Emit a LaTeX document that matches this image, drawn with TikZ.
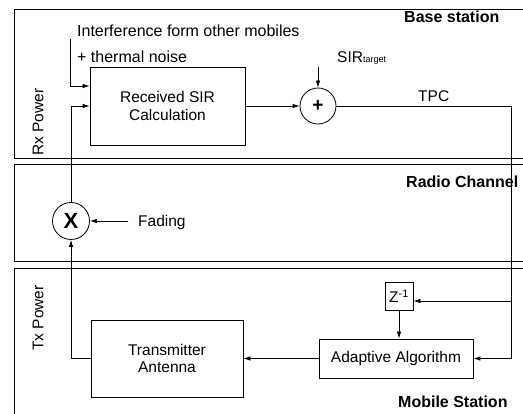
\documentclass[tikz,border=0pt]{standalone}
\usepackage{fontspec}
\setmainfont{Liberation Sans}
\usetikzlibrary{arrows.meta}
\begin{document}
\begin{tikzpicture}[x=1pt,y=-1pt,
  every node/.style={font=\fontsize{15.5}{17.5}\selectfont},
  panel/.style={draw,line width=1pt},
  blk/.style={draw,line width=0.8pt,align=center,inner sep=0pt},
  op/.style={draw,circle,line width=0.8pt,inner sep=0pt,minimum size=36pt},
  arr/.style={line width=0.8pt,-{Latex[length=7pt,width=4.5pt]}},
  ln/.style={line width=0.8pt},
  title/.style={font=\fontsize{16}{18}\selectfont\bfseries,anchor=base west,inner sep=0pt},
  lbl/.style={anchor=base west,inner sep=0pt}]
\useasboundingbox[fill=white] (0,0) rectangle (523,414);
% panels
\draw[panel] (545,10) -- (14,10) -- (14,159) -- (545,159);
\draw[panel] (545,165) -- (14,165) -- (14,262) -- (545,262);
\draw[panel] (545,269) -- (14,269) -- (14,430);
% titles
\node[title] (tbs) at (404,23) {Base station};
\node[title] (trc) at (406,188) {Radio Channel};
\node[title] (tms) at (398,408) {Mobile Station};
\node[rotate=90] (rx) at (38,122) {Rx Power};
\node[rotate=90] (tx2) at (38,318) {Tx Power};
% blocks
\node[blk,minimum width=155pt,minimum height=78pt] (sir) at (167.5,106) {Received SIR\\Calculation};
\node[op] (sum) at (318,106) {\bfseries\fontsize{19}{19}\selectfont +};
\node[op,minimum size=37pt] (mul) at (71,221) {\bfseries\fontsize{22}{22}\selectfont X};
\node[blk,minimum width=28pt,minimum height=28pt] (zbox) at (399,296) {Z\textsuperscript{-1}};
\node[blk,minimum width=154pt,minimum height=39pt] (adapt) at (396,358.5) {Adaptive Algorithm};
\node[blk,minimum width=152pt,minimum height=77pt] (tx) at (167,358.5) {Transmitter\\Antenna};
% labels
\node[lbl,font=\fontsize{16}{18}\selectfont] (int1) at (77,37) {Interference form other mobiles};
\node[lbl,font=\fontsize{16}{18}\selectfont] (int2) at (77,63) {+ thermal noise};
\node[lbl] (sirt) at (337,63) {SIR{\fontsize{9}{9}\selectfont target}};
\node[lbl] (tpc) at (418,102) {TPC};
\node[lbl] (fad) at (138,227) {Fading};
% coordinates
\coordinate (ni) at (70,39);
\coordinate (st) at (318,67);
\coordinate (rc) at (511,301);
\coordinate (fs) at (128,221);
% connectors
\draw[arr] (ni) |- (sir.west |- 0,86);
\draw[arr] (mul.north) |- (sir.west);
\draw[arr] (sir.east) -- (sum.west);
\draw[arr] (st) -- (sum.north);
\draw[ln] (sum.east) -| (rc);
\draw[arr] (rc) |- (adapt.east);
\draw[arr] (rc) -- (zbox.east |- rc);
\draw[arr] (zbox.south) -- (zbox.south |- adapt.north);
\draw[arr] (adapt.west) -- (tx.east);
\draw[arr] (tx.west) -| (mul.south);
\draw[arr] (fs) -- (mul.east);
\end{tikzpicture}
\end{document}
